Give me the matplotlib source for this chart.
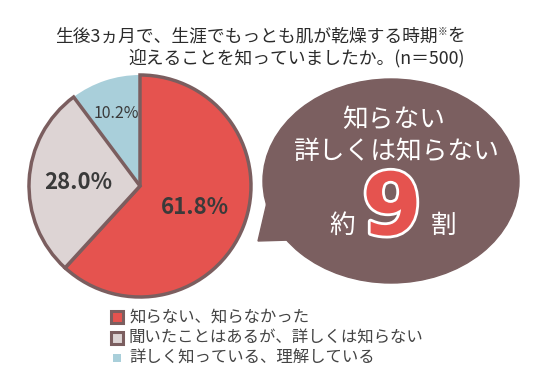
import matplotlib.pyplot as plt
from matplotlib.patches import Ellipse, Polygon, Rectangle
import matplotlib.patheffects as pe
import numpy as np

plt.rcParams['font.family'] = ['Noto Sans CJK JP', 'DejaVu Sans']

# 回答データ
labels = ["知らない、知らなかった", "聞いたことはあるが、詳しくは知らない", "詳しく知っている、理解している"]
values = [61.8, 28.0, 10.2]
colors = ["#e5534f", "#ddd4d4", "#a9cfda"]
edge = "#7b5e5f"

W, H = 536, 379
fig = plt.figure(figsize=(W / 100, H / 100), dpi=100)
ax = fig.add_axes([0, 0, 1, 1])
ax.set_xlim(0, W)
ax.set_ylim(0, H)
ax.set_aspect("equal")
ax.axis("off")
renderer = fig.canvas.get_renderer()


def put_after(prev, s, y, **kw):
    # 直前のテキストの右端に続けて描く
    bb = prev.get_window_extent(renderer)
    x = ax.transData.inverted().transform((bb.x1, 0))[0]
    return ax.text(x, y, s, ha="left", va="baseline", **kw)


# タイトル
tcol = "#2b2b2b"
t1 = ax.text(55, H - 41, "生後3ヵ月で、生涯でもっとも肌が乾燥する時期",
             fontsize=12.8, color=tcol, va="baseline", ha="left")
t2 = put_after(t1, "※", H - 35, fontsize=7, color=tcol)
put_after(t2, "を", H - 41, fontsize=12.8, color=tcol)
ax.text(128, H - 63, "迎えることを知っていましたか。(n＝500)",
        fontsize=12.8, color=tcol, va="baseline", ha="left")

# 円グラフ
cx, cy, r = 140, H - 186, 111
wedges, _ = ax.pie(values, colors=colors, startangle=90, counterclock=False,
                   center=(cx, cy), radius=r, frame=True,
                   wedgeprops=dict(edgecolor=edge, linewidth=2.5))
wedges[2].set_linewidth(0)
wedges[2].set_zorder(0)
ax.set_xlim(0, W)
ax.set_ylim(0, H)
ax.axis("off")

dist = [0.53, 0.56, 0.69]
sizes = [16, 16, 11.5]
weights = ["bold", "bold", "normal"]
for w, v, d, s, fw in zip(wedges, values, dist, sizes, weights):
    ang = np.deg2rad((w.theta1 + w.theta2) / 2)
    ax.text(cx + d * r * np.cos(ang), cy + d * r * np.sin(ang), f"{v:.1f}%",
            fontsize=s, fontweight=fw, color="#3a3a3a", ha="center", va="center")

# 吹き出し
bubble = "#7b5f60"
ax.add_patch(Ellipse((391, H - 181), 256, 204, color=bubble, zorder=2))
ax.add_patch(Polygon([(268, H - 198), (258, H - 241), (292, H - 240)],
                     closed=True, color=bubble, zorder=2))
ax.text(394, H - 120, "知らない", fontsize=18.5, color="white", ha="center", va="center", zorder=3)
ax.text(396, H - 152, "詳しくは知らない", fontsize=18.5, color="white", ha="center", va="center", zorder=3)
ax.text(342, H - 226, "約", fontsize=18.5, color="white", ha="center", va="center", zorder=3)
ax.text(444, H - 226, "割", fontsize=18.5, color="white", ha="center", va="center", zorder=3)
ax.text(392, H - 211, "9", fontsize=62, fontweight="bold", color="#e5534f",
        family="DejaVu Sans", ha="center", va="center", zorder=3,
        path_effects=[pe.withStroke(linewidth=4, foreground="white")])

# 凡例
rows = [H - 317, H - 338, H - 358]
for lab, c, y, i in zip(labels, colors, rows, range(3)):
    if i < 2:
        ax.add_patch(Rectangle((111, y - 6), 12, 12, facecolor=c, edgecolor=edge, linewidth=2.2))
    else:
        ax.add_patch(Rectangle((113, y - 4), 8, 8, facecolor=c, edgecolor="none"))
    ax.text(129, y, lab, fontsize=11.8, color="#444444", ha="left", va="center")

fig.savefig("out.png", dpi=100)
